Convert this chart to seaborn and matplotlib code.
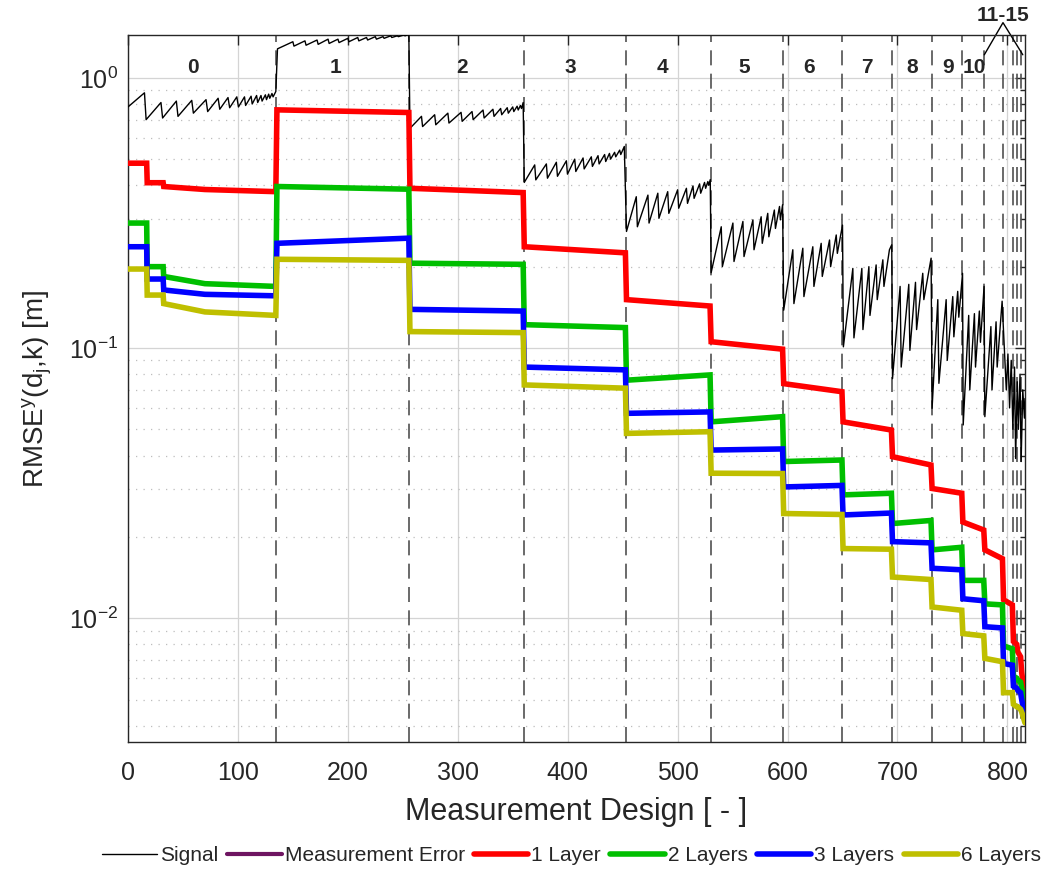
import matplotlib
matplotlib.use("Agg")
import matplotlib.pyplot as plt
import seaborn as sns
import pandas as pd
from matplotlib.ticker import LogLocator, NullFormatter, FixedLocator

# ---------------- data ----------------
bounds = [0, 135, 256, 360, 453, 530, 596, 650, 695, 731, 759, 779, 796, 805, 809, 812.5, 816]
seg_labels = ['0', '1', '2', '3', '4', '5', '6', '7', '8', '9', '10']
seg_label_x = [59, 189, 304, 402, 486, 561, 620, 672, 713, 746, 770]
group_label = '11-15'

# segment 0 has a few extra steps
seg0_x = [0, 17, 17.5, 32, 32.5, 70, 134.5]
red_seg0 = [0.483, 0.483, 0.409, 0.409, 0.396, 0.386, 0.379]
green_seg0 = [0.29, 0.29, 0.20, 0.20, 0.184, 0.173, 0.169]
blue_seg0 = [0.237, 0.237, 0.18, 0.18, 0.164, 0.158, 0.156]
yellow_seg0 = [0.196, 0.196, 0.157, 0.157, 0.146, 0.136, 0.132]

# segments 1..15: level at start / end of each segment
red_start = [0.761, 0.390, 0.237, 0.151, 0.1055, 0.0738, 0.0533, 0.0396, 0.0302, 0.0227, 0.0179, 0.0117, 0.0082, 0.0075, 0.0063]
red_end = [0.744, 0.376, 0.225, 0.143, 0.0990, 0.0689, 0.0497, 0.0369, 0.0290, 0.0212, 0.0166, 0.0112, 0.0080, 0.0072, 0.0051]
green_start = [0.396, 0.206, 0.122, 0.076, 0.0533, 0.0380, 0.0286, 0.0224, 0.0179, 0.0138, 0.0113, 0.0079, 0.0061, 0.0059, 0.0055]
green_end = [0.387, 0.204, 0.119, 0.0795, 0.0557, 0.0385, 0.0290, 0.0230, 0.0183, 0.0138, 0.0112, 0.0077, 0.0060, 0.0058, 0.0048]
blue_start = [0.244, 0.139, 0.085, 0.0573, 0.0419, 0.0306, 0.0241, 0.0192, 0.0153, 0.0118, 0.0093, 0.0068, 0.0056, 0.0054, 0.0050]
blue_end = [0.255, 0.137, 0.083, 0.0580, 0.0423, 0.0310, 0.0245, 0.0190, 0.0151, 0.0116, 0.0092, 0.0067, 0.0055, 0.0053, 0.0043]
yellow_start = [0.213, 0.115, 0.073, 0.0483, 0.0344, 0.0244, 0.0181, 0.0142, 0.0110, 0.00877, 0.0071, 0.0053, 0.0048, 0.0047, 0.0045]
yellow_end = [0.211, 0.114, 0.071, 0.0490, 0.0343, 0.0242, 0.0180, 0.0139, 0.0107, 0.0086, 0.0069, 0.0053, 0.0047, 0.0046, 0.0041]

# Signal (sawtooth vertices, per segment)
sig_x = [0, 15, 16.5, 30, 31.5, 44, 45.5, 58, 59.5, 71, 72.5, 82, 83.5, 91, 92.5, 99, 100.5, 106, 107, 112, 113, 117, 118, 121, 122, 125, 126, 128, 129, 131, 132, 134.5,
         136, 150, 151, 161, 162, 172, 173, 182, 183, 191, 192, 200, 201, 209, 210, 217, 218, 225, 226, 232, 233, 239, 240, 245, 246, 251, 252, 255.5,
         256.5, 267, 268, 279, 280, 291, 292, 303, 304, 313, 314, 323, 324, 332, 333, 339, 340, 345, 346, 350, 351, 354, 355, 357, 358, 359.5,
         360.5, 370, 371, 380.6, 381.6, 389.7, 390.7, 398.8, 399.8, 406.4, 407.4, 414, 415, 421.5, 422.5, 427.6, 428.6, 433.6, 434.6, 438, 439, 442.7, 443.7, 447.3, 448.3, 451.5,
         453.5, 462.4, 463.4, 473, 474, 482, 483, 491, 492, 500, 501, 508, 509, 514, 515, 520, 521, 524.5, 525.5, 527.5, 528.3, 529.7,
         530.5, 539.7, 540.7, 550.3, 551.3, 559.4, 560.4, 568.5, 569.5, 576, 577, 582, 583, 588, 589, 592.7, 593.5, 595.5,
         596.5, 604.8, 605.8, 613.9, 614.9, 623, 624, 630.6, 631.6, 638.2, 639.2, 644.3, 645.3, 650,
         650.8, 659.4, 660.4, 667.6, 668.6, 674, 675, 680.6, 681.6, 686.7, 687.7, 692.7, 694.8,
         695.5, 702.4, 703.4, 710.3, 711.3, 716.4, 717.4, 723, 724, 730.6,
         731.5, 736.7, 737.7, 744.3, 745.3, 750.3, 751.3, 754.8, 755.8, 759.2,
         759.8, 764.8, 765.8, 770, 771, 774.5, 775.5, 778.8,
         779.5, 785, 786, 789.7, 790.7, 795.2,
         797.3, 799, 800.5, 802, 803.5, 805, 806.5, 807.5, 809, 810, 811.5, 812.5, 814, 815.5, 816]
sig_y = [0.78, 0.88, 0.70, 0.81, 0.71, 0.82, 0.72, 0.825, 0.74, 0.83, 0.75, 0.84, 0.765, 0.845, 0.775, 0.85, 0.78, 0.85, 0.79, 0.855, 0.80, 0.86, 0.81, 0.86, 0.82, 0.865, 0.83, 0.87, 0.84, 0.875, 0.85, 0.89,
         1.28, 1.36, 1.31, 1.37, 1.32, 1.38, 1.33, 1.39, 1.34, 1.39, 1.35, 1.40, 1.36, 1.41, 1.37, 1.41, 1.38, 1.42, 1.39, 1.42, 1.40, 1.43, 1.41, 1.43, 1.42, 1.44, 1.43, 1.45,
         0.65, 0.72, 0.66, 0.73, 0.67, 0.74, 0.68, 0.745, 0.69, 0.75, 0.70, 0.76, 0.71, 0.765, 0.72, 0.77, 0.73, 0.775, 0.74, 0.78, 0.75, 0.785, 0.76, 0.79, 0.77, 0.81,
         0.41, 0.476, 0.419, 0.48, 0.425, 0.487, 0.432, 0.493, 0.44, 0.50, 0.45, 0.505, 0.46, 0.51, 0.47, 0.515, 0.48, 0.52, 0.49, 0.525, 0.50, 0.53, 0.51, 0.54, 0.52, 0.557,
         0.27, 0.363, 0.281, 0.368, 0.29, 0.374, 0.302, 0.379, 0.315, 0.385, 0.329, 0.39, 0.343, 0.398, 0.358, 0.405, 0.374, 0.41, 0.39, 0.413, 0.40, 0.42,
         0.19, 0.281, 0.20, 0.29, 0.209, 0.294, 0.218, 0.298, 0.231, 0.306, 0.244, 0.315, 0.258, 0.324, 0.277, 0.334, 0.298, 0.339,
         0.138, 0.231, 0.146, 0.234, 0.155, 0.237, 0.169, 0.244, 0.184, 0.251, 0.20, 0.262, 0.224, 0.285,
         0.101, 0.197, 0.109, 0.197, 0.117, 0.20, 0.132, 0.203, 0.151, 0.212, 0.169, 0.231, 0.241,
         0.077, 0.169, 0.085, 0.172, 0.098, 0.175, 0.117, 0.189, 0.151, 0.215,
         0.0598, 0.151, 0.074, 0.151, 0.09, 0.155, 0.11, 0.162, 0.13, 0.189,
         0.0519, 0.132, 0.07, 0.134, 0.085, 0.137, 0.105, 0.169,
         0.0557, 0.12, 0.07, 0.125, 0.085, 0.149,
         0.098, 0.07, 0.095, 0.06, 0.09, 0.05, 0.085, 0.039, 0.075, 0.05, 0.08, 0.038, 0.07, 0.055, 0.065]

series_names = ['1 Layer', '2 Layers', '3 Layers', '6 Layers']
series_colors = ['#FF0000', '#00BF00', '#0000FF', '#BFBF00']


def build(seg0_vals, starts, ends):
    xs = list(seg0_x)
    ys = list(seg0_vals)
    for i in range(1, len(bounds) - 1):
        a, b = bounds[i], bounds[i + 1]
        xs += [a + 0.5, b - 0.5 if i < len(bounds) - 2 else b]
        ys += [starts[i - 1], ends[i - 1]]
    return xs, ys


# ---------------- style ----------------
sns.set_style("white")
plt.rcParams['font.family'] = ['Liberation Sans', 'DejaVu Sans']
plt.rcParams['mathtext.fontset'] = 'custom'
plt.rcParams['mathtext.rm'] = 'Liberation Sans'
plt.rcParams['mathtext.it'] = 'Liberation Sans:italic'
plt.rcParams['axes.edgecolor'] = '#262626'
plt.rcParams['axes.linewidth'] = 1.0

fig = plt.figure(figsize=(10.49, 8.69), dpi=100)
ax = fig.add_axes([0.1220, 0.1461, 0.8551, 0.8136])

# boundary dashed lines
for b in bounds[1:-1]:
    ax.axvline(b, color='#505050', lw=1.2, ls=(0, (9, 5)), zorder=1.5)

sns.lineplot(x=sig_x, y=sig_y, ax=ax, color='black', lw=1.0, sort=False,
             estimator=None, label='Signal', zorder=3)
ax.plot([], [], color='#6E1461', lw=3, label='Measurement Error')

data_sets = [(red_seg0, red_start, red_end), (green_seg0, green_start, green_end),
             (blue_seg0, blue_start, blue_end), (yellow_seg0, yellow_start, yellow_end)]
for (s0, st, en), name, col in zip(data_sets, series_names, series_colors):
    xs, ys = build(s0, st, en)
    df = pd.DataFrame({'x': xs, 'y': ys})
    sns.lineplot(data=df, x='x', y='y', ax=ax, color=col, lw=4.0, sort=False,
                 estimator=None, label=name, zorder=4, solid_joinstyle='miter')

ax.set_yscale('log')
ax.set_xlim(0, 816)
ax.set_ylim(0.00348, 1.44)

ax.xaxis.set_major_locator(FixedLocator([0, 100, 200, 300, 400, 500, 600, 700, 800]))
ax.yaxis.set_major_locator(LogLocator(base=10, numticks=10))
ax.yaxis.set_minor_locator(LogLocator(base=10, subs=range(2, 10), numticks=20))
ax.yaxis.set_minor_formatter(NullFormatter())

ax.grid(True, which='major', color='#d4d4d4', lw=0.9, zorder=0)
ax.yaxis.grid(True, which='minor', color='#bdbdbd', lw=0.9, ls=(0, (1, 5)))
ax.set_axisbelow(True)

ax.tick_params(which='both', direction='in', top=True, right=True, color='#262626',
               labelsize=18, labelcolor='#262626')
ax.tick_params(which='major', length=7, width=1.0)
ax.tick_params(which='minor', length=3.5, width=1.0)
ax.tick_params(axis='x', pad=14)
ax.tick_params(axis='y', pad=7)

ax.set_xlabel('Measurement Design [ - ]', fontsize=22, color='#262626', labelpad=8)
ax.set_ylabel(r'RMSE$^\mathdefault{y}$(d$_\mathdefault{j}$,k) [m]', fontsize=20,
              color='#262626', labelpad=11)

# segment labels
for lx, lt in zip(seg_label_x, seg_labels):
    ax.text(lx, 1.094, lt, ha='center', va='center', fontsize=15, fontweight='bold')
ax.text(796, 1.70, group_label, ha='center', va='center', fontsize=15,
        fontweight='bold', clip_on=False)
ax.plot([779, 796, 814], [1.217, 1.60, 1.217], color='black', lw=1.0, clip_on=False)

# legend
handles, labels = ax.get_legend_handles_labels()
ax.get_legend().remove()
fig.legend(handles, labels, loc='center', bbox_to_anchor=(0.545, 0.0155), ncol=6,
           frameon=False, fontsize=15, handlelength=2.6, handletextpad=0.15,
           columnspacing=0.45, borderaxespad=0)

fig.savefig('out.png', dpi=100)
